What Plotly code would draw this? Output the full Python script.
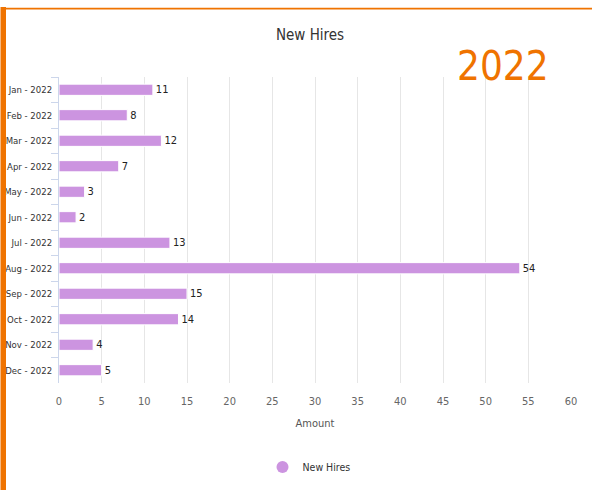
import plotly.graph_objects as go

months = ["Jan - 2022", "Feb - 2022", "Mar - 2022", "Apr - 2022", "May - 2022", "Jun - 2022",
          "Jul - 2022", "Aug - 2022", "Sep - 2022", "Oct - 2022", "Nov - 2022", "Dec - 2022"]
new_hires = [11, 8, 12, 7, 3, 2, 13, 54, 15, 14, 4, 5]
x_ticks = list(range(0, 61, 5))

FONT = "DejaVu Sans Condensed, sans-serif"
BAR = "#cc94e0"
ORANGE = "#ef7300"

W, H = 592, 490
L, R, T, B = 59, 21, 77, 107
PW, PH = W - L - R, H - T - B


def px(xp):
    return (xp - L) / PW


def py(yp):
    return (H - B - yp) / PH


fig = go.Figure()
fig.add_trace(go.Bar(
    y=months, x=new_hires, orientation="h", width=0.44,
    marker=dict(color=BAR, line=dict(color="white", width=1)),
    text=[str(v) for v in new_hires], textposition="outside", constraintext="none",
    textfont=dict(family=FONT, size=11, color="#222"),
    cliponaxis=False, showlegend=False, name="New Hires",
))
fig.add_trace(go.Scatter(
    x=[None], y=[None], mode="markers", name="New Hires",
    marker=dict(symbol="circle", size=11, color=BAR), showlegend=True,
))

fig.update_layout(
    width=W, height=H,
    margin=dict(l=L, r=R, t=T, b=B, autoexpand=False),
    paper_bgcolor="white", plot_bgcolor="white",
    font=dict(family=FONT, size=11, color="#333"),
    title=dict(text="New Hires", x=310 / W, xanchor="center", y=1 - 35 / H, yanchor="middle",
               font=dict(family=FONT, size=15, color="#333")),
    showlegend=True,
    legend=dict(orientation="h", x=px(309), xanchor="center", y=py(467), yanchor="middle",
                font=dict(family=FONT, size=10.5, color="#333"), itemsizing="constant", itemwidth=30),
    xaxis=dict(range=[0, 60], tickvals=x_ticks, showgrid=True, gridcolor="#e6e6e6", gridwidth=1,
               zeroline=False, showline=False, ticks="outside", ticklen=8, tickcolor="rgba(0,0,0,0)",
               tickfont=dict(family=FONT, size=11, color="#666"), automargin=False,
               title=dict(text="Amount", font=dict(family=FONT, size=11, color="#555"), standoff=12),
               fixedrange=True),
    yaxis=dict(autorange="reversed", showgrid=False, showline=True, linecolor="#ccd6eb", linewidth=1,
               ticks="outside", ticklen=7, tickcolor="#ccd6eb", tickson="boundaries", automargin=False,
               ticklabelstandoff=4,
               tickfont=dict(family=FONT, size=9.5, color="#333"), zeroline=False, fixedrange=True),
    shapes=[
        dict(type="rect", xref="paper", yref="paper", x0=px(0.5), x1=px(6), y0=py(490), y1=py(7),
             fillcolor=ORANGE, line=dict(width=0), layer="above"),
        dict(type="line", xref="paper", yref="paper", x0=px(5), x1=px(592), y0=py(8.7), y1=py(8.7),
             line=dict(color=ORANGE, width=1.8), layer="above"),
    ],
    annotations=[
        dict(text="2022", xref="paper", yref="paper", x=px(503), y=py(66), xanchor="center", yanchor="middle",
             showarrow=False, font=dict(family=FONT, size=40, color=ORANGE)),
    ],
)

fig.write_html("out.html")
